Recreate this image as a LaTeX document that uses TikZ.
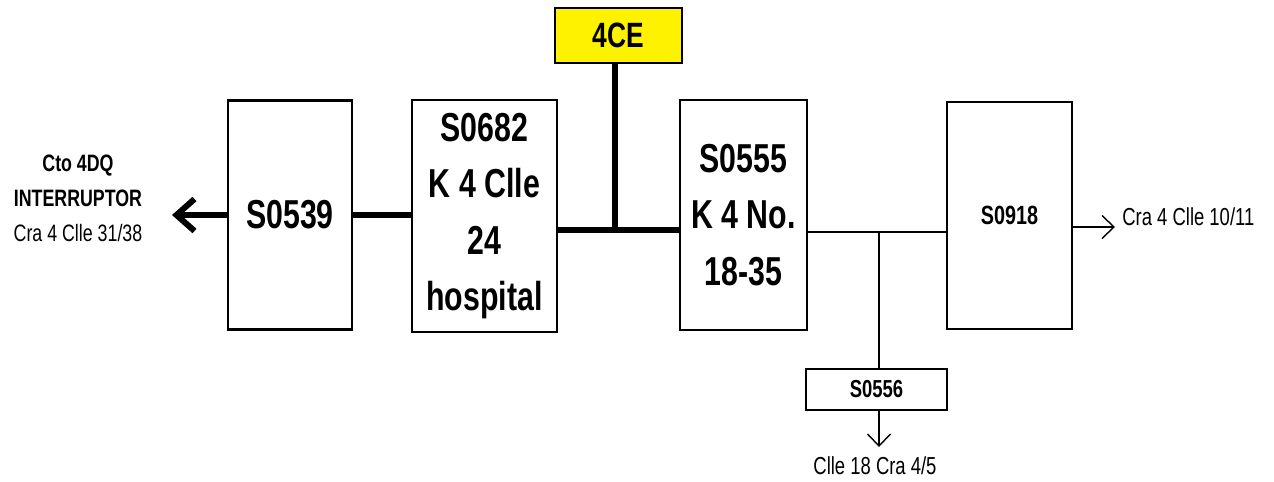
\documentclass[tikz,border=0pt]{standalone}
\usepackage{fontspec}
\setmainfont[FakeStretch=0.75]{Liberation Sans}
\usetikzlibrary{arrows.meta}
\tikzset{
  sbox/.style  = {draw, line width=1.6pt, fill=white, align=center, inner sep=0pt,
                  font=\bfseries\fontsize{23}{32}\selectfont},
  feed/.style  = {line width=3.4pt},
  tap/.style   = {line width=0.8pt},
  lab/.style   = {align=center, inner sep=0pt, font=\fontsize{14}{20}\selectfont},
  barb/.style  = {-{Straight Barb[length=2.4mm, width=4.6mm]}},
}

\begin{document}
\begin{tikzpicture}[x=0.2mm, y=-0.2mm]
\useasboundingbox (0,0) rectangle (1274,481);

% ── Main chain of switches ─────────────────────────────────
\node[sbox, minimum width=24.8mm, minimum height=45.8mm] (s0539) at (290,215) {S0539};
\node[sbox, minimum width=29mm, minimum height=46.4mm] (s0682) at (484.5,216)
  {S0682\\K 4 Clle\\24\\hospital};
\node[sbox, minimum width=25.4mm, minimum height=46mm] (s0555) at (743.5,215)
  {S0555\\K 4 No.\\18-35};
\node[sbox, minimum width=25mm, minimum height=45.4mm,
      font=\bfseries\fontsize{15}{18}\selectfont] (s0918) at (1009.5,215.5) {S0918};

% ── Feeder 4CE (yellow) ────────────────────────────────────
\node[sbox, fill=yellow, minimum width=25.4mm, minimum height=11mm,
      font=\bfseries\fontsize{20}{24}\selectfont] (ce4) at (618.5,35.5) {4CE};

% ── Branch switch S0556 ────────────────────────────────────
\node[sbox, minimum width=28.2mm, minimum height=8.2mm,
      font=\bfseries\fontsize{14}{18}\selectfont] (s0556) at (876.5,389.5) {S0556};

% ── Free ends and joints ───────────────────────────────────
\coordinate (cto)  at (172,215);
\coordinate (bus)  at (615,230);
\coordinate (tee)  at (879,232);
\coordinate (cra)  at (1115,227);
\coordinate (clle) at (879,447);

% thick feeder lines
\draw[feed, -{Straight Barb[length=3.6mm, width=6.4mm]}] (s0539.west) -- (cto);
\draw[feed] (s0539.east) -- (s0682.west |- s0539.east);
\draw[feed] (s0682.east |- bus) -- (s0555.west |- bus);
\draw[feed] (ce4.south -| bus) -- (bus);

% thin branch lines
\draw[tap] (s0555.east |- tee) -- (s0918.west |- tee);
\draw[tap] (tee) -- (s0556.north -| tee);
\draw[tap, barb] (s0556.south -| clle) -- (clle);
\draw[tap, barb] (s0918.east |- cra) -- (cra);

% ── End labels ─────────────────────────────────────────────
\node[lab, font=\fontsize{13.5}{20}\selectfont] (lcto) at (78,198)
  {\textbf{Cto 4DQ}\\\textbf{INTERRUPTOR}\\Cra 4 Clle 31/38};
\node[lab, anchor=west] (lcra) at (1122,217) {Cra 4 Clle 10/11};
\node[lab] (lclle) at (875,466) {Clle 18 Cra 4/5};

\end{tikzpicture}
\end{document}
